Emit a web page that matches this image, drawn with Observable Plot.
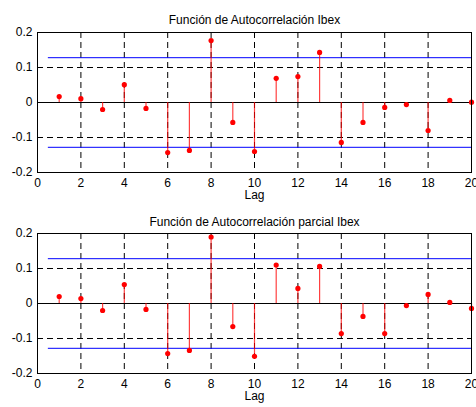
<!DOCTYPE html>
<html>
<head>
<meta charset="utf-8">
<script src="https://cdn.jsdelivr.net/npm/d3@7"></script>
<script src="https://cdn.jsdelivr.net/npm/@observablehq/plot@0.6"></script>
<style>
  html, body { margin: 0; padding: 0; background: #fff; }
  #wrap { position: relative; width: 476px; height: 407px; overflow: hidden; }
  #wrap svg { position: absolute; left: 0; overflow: visible; }
</style>
</head>
<body>
<div id="wrap"></div>
<script>
const lags = [1,2,3,4,5,6,7,8,9,10,11,12,13,14,15,16,17,18,19,20];
const acf  = [0.017,0.011,-0.020,0.051,-0.017,-0.143,-0.137,0.177,-0.057,-0.140,
              0.069,0.074,0.143,-0.114,-0.057,-0.014,-0.006,-0.080,0.006,0.001];
const pacf = [0.020,0.014,-0.020,0.054,-0.017,-0.143,-0.134,0.190,-0.066,-0.151,
              0.110,0.043,0.106,-0.086,-0.037,-0.086,-0.006,0.026,0.003,-0.014];
const bound = 0.128;
const xTicks = [0,2,4,6,8,10,12,14,16,18,20];
const xGrid = [2,4,6,8,10,12,14,16,18];
const yTicks = [-0.2,-0.1,0,0.1,0.2];
const yTickLabels = ["-0.2","-0.1","0","0.1","0.2"];
const yGrid = [-0.1,0.1];
const titles = ["Función de Autocorrelación Ibex", "Función de Autocorrelación parcial Ibex"];
const xLabel = "Lag";

const font = "'Liberation Sans', Arial, sans-serif";

function panel(values, title, top, height, marginTop, marginBottom, titleDy, labelDy) {
  const data = lags.map((l, i) => ({lag: l, v: values[i]}));
  const svg = Plot.plot({
    width: 476,
    height,
    marginLeft: 37,
    marginRight: 5,
    marginTop,
    marginBottom,
    style: {fontFamily: font, fontSize: "12px", background: "transparent", color: "#000", overflow: "visible"},
    x: {domain: [0, 20], ticks: xTicks, tickSize: 0, tickPadding: 6, tickFormat: d => String(d), label: null},
    y: {domain: [-0.2, 0.2], ticks: yTicks, tickSize: 0, tickPadding: 5,
        tickFormat: d => yTickLabels[yTicks.findIndex(t => Math.abs(t - d) < 1e-9)], label: null},
    marks: [
      Plot.ruleX(xGrid, {stroke: "#000", strokeWidth: 1, strokeDasharray: "6,4"}),
      Plot.ruleY(yGrid, {stroke: "#000", strokeWidth: 1, strokeDasharray: "6,4"}),
      Plot.ruleY([0], {stroke: "#000", strokeWidth: 1}),
      Plot.ruleY([-bound, bound], {x1: 0.5, x2: 20, stroke: "#0000ff", strokeWidth: 1}),
      Plot.ruleX(data, {x: "lag", y1: 0, y2: "v", stroke: "#ff0000", strokeWidth: 1.2, strokeOpacity: 0.75}),
      Plot.dot(data, {x: "lag", y: "v", r: 2.6, fill: "#ff0000", stroke: "none"}),
      Plot.frame({stroke: "#000", strokeWidth: 1}),
      Plot.text([title], {frameAnchor: "top", dy: titleDy, fontSize: 12, fill: "#000"}),
      Plot.text([xLabel], {frameAnchor: "bottom", dy: labelDy, fontSize: 12, fill: "#000"})
    ]
  });
  svg.style.top = top + "px";
  document.getElementById("wrap").appendChild(svg);
}

panel(acf, titles[0], 0, 200, 32, 28, -17, 26);
panel(pacf, titles[1], 200, 207, 33, 34, -16, 26);
</script>
</body>
</html>
